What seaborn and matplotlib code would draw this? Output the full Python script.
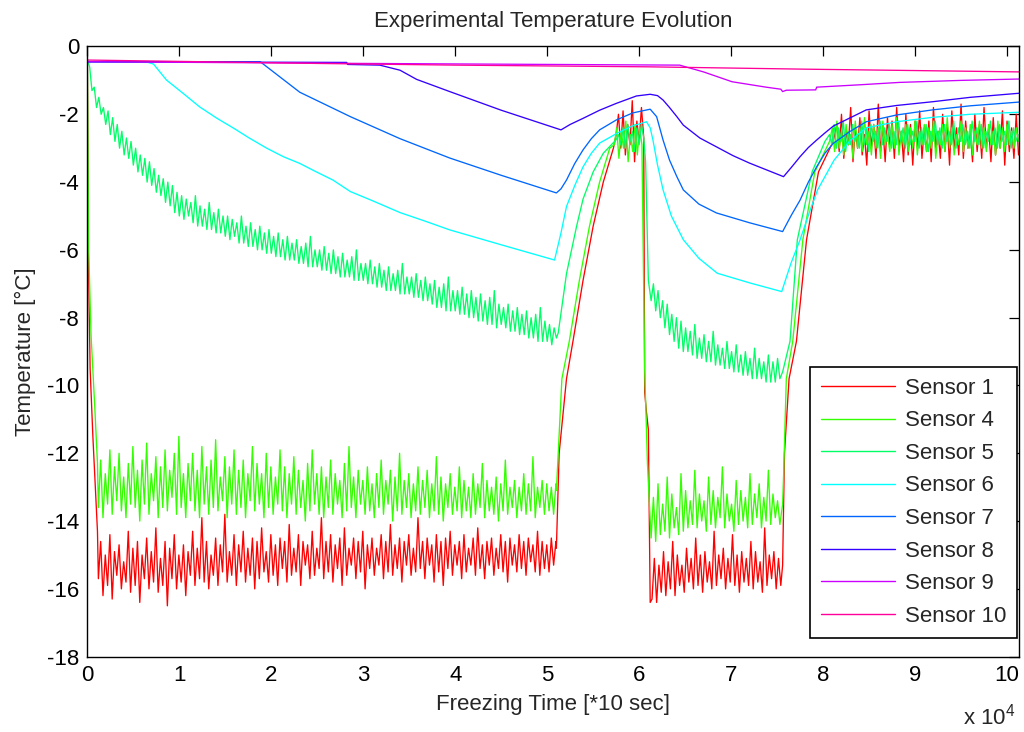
import numpy as np
import pandas as pd
import matplotlib
matplotlib.use("Agg")
import matplotlib.pyplot as plt
import seaborn as sns
from matplotlib.ticker import FuncFormatter

# ---------------------------------------------------------------------------
# Sensors and their trace colours
# ---------------------------------------------------------------------------
sensors = ["Sensor 1", "Sensor 4", "Sensor 5", "Sensor 6",
           "Sensor 7", "Sensor 8", "Sensor 9", "Sensor 10"]
colors = ["#ff0000", "#33ff00", "#00ff66", "#00ffff",
          "#0066ff", "#3300ff", "#cc00ff", "#ff0099"]

STEP = 250  # sampling interval of the logged (noisy) stretches, in time units

# ---------------------------------------------------------------------------
# Sensor 1
# ---------------------------------------------------------------------------
s1_start_t = [0, 100, 300, 600, 900, 1100]
s1_start_v = [-0.4, -6.0, -9.5, -11.5, -13.2, -14.3]
s1_freeze1_t0 = 1200
s1_freeze1 = [
    -15.7, -14.6, -16.2, -15.0, -15.9, -14.4, -16.3, -14.9, -15.6, -14.7, -16.0, -15.2, -15.8, -14.3, -16.1, -14.8, -15.9, -14.6, -16.4, -15.0,
    -15.7, -14.5, -16.0, -14.9, -15.8, -14.2, -16.1, -15.1, -15.9, -14.6, -16.5, -14.8, -15.7, -14.4, -16.0, -15.0, -15.8, -14.7, -16.2, -14.9,
    -15.6, -14.3, -15.9, -14.8, -15.7, -13.9, -15.8, -14.6, -16.0, -15.0, -15.6, -14.5, -15.9, -14.7, -15.5, -13.8, -15.8, -14.9, -15.6, -14.4,
    -15.9, -14.7, -15.5, -14.3, -15.8, -14.8, -15.6, -14.5, -16.0, -14.6, -15.7, -14.2, -15.5, -14.9, -15.8, -14.4, -15.6, -14.7, -15.9, -14.5,
    -15.4, -14.6, -15.8, -14.1, -15.6, -14.8, -15.5, -14.4, -15.9, -14.6, -15.3, -14.7, -15.7, -14.3, -15.6, -14.8, -15.4, -13.9, -15.7, -14.6,
    -15.5, -14.4, -15.8, -14.7, -15.4, -14.5, -15.9, -14.2, -15.6, -14.8, -15.3, -14.5, -15.7, -14.6, -15.5, -14.3, -16.0, -14.7, -15.4, -14.5,
    -15.6, -14.8, -15.3, -14.4, -15.7, -14.6, -15.5, -14.1, -15.6, -14.7, -15.4, -14.5, -15.8, -14.6, -15.3, -14.4, -15.6, -14.8, -15.5, -13.9,
    -15.4, -14.6, -15.7, -14.5, -15.3, -14.7, -15.8, -14.4, -15.5, -14.6, -15.9, -14.5, -15.4, -14.3, -15.6, -14.7, -15.3, -14.6, -15.7, -14.4,
    -15.5, -14.8, -15.3, -14.5, -15.6, -14.2, -15.4, -14.7, -15.7, -14.6, -15.3, -14.5, -15.6, -14.8, -15.4, -14.4, -15.5, -14.6, -15.8, -14.5,
    -15.3, -14.7, -15.5, -14.4, -15.4, -14.6, -15.6, -14.5, -15.2, -14.7, -15.5, -14.3, -15.6, -14.6, -15.4, -14.7, -15.5, -14.5, -15.3, -14.6,
]
s1_rise1_t = [51000, 51300, 52100, 52800, 53900, 55000, 56100, 57200]
s1_rise1_v = [-14.8, -12.0, -9.8, -8.7, -6.9, -5.3, -4.0, -3.0]
s1_peak_t0 = 57500
s1_peak = [-2.6, -2.0, -3.0, -1.9, -3.2, -2.3, -2.9, -1.6, -3.4, -2.2, -2.8, -1.8, -2.7]
s1_drop_t = [60600, 60800, 61000, 61200]
s1_drop_v = [-10.2, -10.8, -11.3, -16.4]
s1_freeze2_t0 = 61400
s1_freeze2 = [
    -16.3, -15.1, -16.4, -15.3, -16.1, -14.9, -16.2, -15.2, -16.0, -14.6, -16.2, -15.0, -15.9, -15.3, -16.1, -14.8, -15.8, -15.1, -16.0, -14.5,
    -15.9, -15.0, -16.1, -14.9, -15.8, -15.2, -16.0, -14.3, -15.9, -15.0, -15.7, -14.8, -16.0, -15.1, -15.8, -14.4, -15.9, -15.0, -16.1, -14.9,
    -15.8, -15.1, -15.9, -14.6, -16.0, -14.9, -15.8, -15.2, -16.1, -14.2, -15.9, -15.0, -15.7, -14.9, -16.0, -15.1, -15.9,
]
s1_rise2_t = [75600, 75800, 76300, 77100, 78200, 79500, 81100]
s1_rise2_v = [-15.3, -12.0, -9.8, -8.7, -5.7, -3.7, -2.8]
s1_thaw_t0 = 81500
s1_thaw = [
    -2.3, -3.1, -2.0, -3.3, -2.5, -2.9, -1.8, -3.4, -2.4, -3.0, -2.1, -3.2, -2.6, -3.5, -1.9, -3.0, -2.3, -3.3, -1.7, -3.1,
    -2.4, -3.4, -2.1, -2.9, -2.2, -3.3, -1.8, -3.0, -2.5, -3.4, -2.0, -3.2, -2.3, -3.5, -2.2, -3.0, -1.9, -3.3, -2.4, -3.1,
    -2.2, -3.4, -1.8, -3.0, -2.5, -3.3, -2.0, -3.1, -2.3, -3.5, -1.9, -3.0, -2.4, -3.2, -1.7, -3.3, -2.2, -3.0, -2.5, -3.4,
    -2.0, -3.1, -2.3, -3.3, -1.8, -3.0, -2.4, -3.4, -2.1, -3.2, -2.5, -3.0, -1.9, -3.5, -2.2, -3.1, -2.4, -3.3, -2.0, -3.2,
]

# ---------------------------------------------------------------------------
# Sensor 4
# ---------------------------------------------------------------------------
s4_start_t = [0, 150, 400, 800, 1100]
s4_start_v = [-0.4, -6.0, -8.5, -10.6, -12.3]
s4_freeze1_t0 = 1200
s4_freeze1 = [
    -13.6, -12.2, -13.9, -12.6, -13.5, -11.9, -13.8, -12.4, -13.4, -12.0, -13.7, -12.7, -13.9, -12.3, -13.5, -11.8, -13.6, -12.5, -14.0, -12.2,
    -13.5, -11.7, -13.8, -12.6, -13.4, -12.1, -13.9, -12.4, -13.6, -11.9, -13.7, -12.5, -13.3, -12.0, -13.8, -11.5, -13.6, -12.6, -13.9, -12.3,
    -13.4, -12.0, -13.7, -12.5, -13.9, -11.8, -13.5, -12.4, -13.8, -12.2, -13.6, -11.6, -13.7, -12.7, -13.4, -12.1, -13.9, -12.4, -13.5, -11.9,
    -13.8, -12.5, -13.6, -12.2, -13.9, -12.6, -13.4, -11.8, -13.7, -12.3, -13.5, -12.6, -13.9, -12.0, -13.6, -12.4, -13.8, -12.7, -13.5, -11.9,
    -13.7, -12.4, -13.9, -12.6, -13.5, -12.1, -13.8, -12.5, -13.6, -12.8, -14.0, -12.3, -13.7, -11.9, -13.5, -12.6, -13.8, -12.4, -13.9, -12.7,
    -13.6, -12.2, -13.8, -12.6, -13.5, -12.8, -13.9, -12.3, -13.7, -11.8, -13.6, -12.7, -13.9, -12.5, -13.5, -12.8, -13.8, -12.4, -13.7, -12.9,
    -13.9, -12.6, -13.6, -12.2, -13.8, -12.8, -13.5, -12.5, -14.0, -12.7, -13.7, -12.0, -13.8, -12.8, -13.6, -12.6, -13.9, -12.9, -13.7, -12.4,
    -13.8, -12.8, -13.6, -12.5, -13.9, -12.9, -13.7, -12.1, -13.8, -12.7, -14.0, -12.9, -13.6, -12.6, -13.8, -13.0, -13.7, -12.4, -13.9, -12.8,
    -13.7, -13.0, -13.9, -12.6, -13.8, -12.9, -13.6, -12.3, -13.9, -12.8, -13.7, -13.0, -13.8, -12.7, -14.0, -12.9, -13.7, -12.2, -13.8, -13.0,
    -13.6, -12.8, -13.9, -13.0, -13.7, -12.6, -13.8, -12.9, -13.7, -12.1, -13.9, -13.0, -13.6, -12.8, -13.8, -12.9, -13.7, -13.0, -13.8, -12.9,
]
s4_rise1_t = [51000, 51600, 52400, 53500, 54600, 55700, 56800]
s4_rise1_v = [-13.1, -9.8, -8.7, -6.9, -5.3, -4.0, -3.0]
s4_peak_t0 = 57300
s4_peak = [-2.9, -2.4, -3.3, -2.5, -3.0, -2.2, -3.4, -2.6, -3.1, -2.3, -3.2, -2.4, -2.9]
s4_drop_t = [60600, 60900]
s4_drop_v = [-9.5, -12.3]
s4_freeze2_t0 = 61300
s4_freeze2 = [
    -14.5, -13.3, -14.6, -12.9, -14.4, -13.5, -14.3, -12.7, -14.5, -13.2, -14.2, -13.6, -14.4, -12.6, -14.3, -13.1, -14.2, -13.4, -14.1, -12.5,
    -14.2, -13.2, -14.0, -13.4, -14.3, -12.7, -14.1, -13.1, -14.2, -13.3, -13.9, -12.4, -14.2, -13.2, -14.0, -13.5, -14.3, -12.8, -14.1, -13.1,
    -14.0, -13.3, -14.2, -12.6, -14.1, -13.2, -13.9, -12.9, -14.2, -13.3, -14.0, -12.5, -14.1, -13.2, -13.9, -13.4, -14.1,
]
s4_rise2_t = [75600, 75700, 76000, 76700, 77800, 79100, 80700]
s4_rise2_v = [-13.5, -12.7, -9.8, -8.7, -5.7, -3.7, -2.8]
s4_thaw_t0 = 81000
s4_thaw = [
    -2.4, -3.1, -2.2, -3.0, -2.5, -3.2, -2.3, -2.9, -2.6, -3.3, -2.2, -3.0, -2.4, -3.1, -2.1, -2.9, -2.5, -3.2, -2.3, -3.0,
    -2.4, -3.3, -2.2, -2.9, -2.6, -3.1, -2.3, -3.0, -2.1, -3.2, -2.5, -2.9, -2.3, -3.1, -2.4, -3.0, -2.2, -3.2, -2.5, -2.9,
    -2.3, -3.1, -2.4, -3.0, -2.2, -3.3, -2.5, -2.9, -2.3, -3.1, -2.1, -3.0, -2.4, -3.2, -2.6, -2.9, -2.2, -3.1, -2.4, -3.0,
    -2.3, -3.2, -2.5, -2.9, -2.2, -3.0, -2.4, -3.1, -2.3, -2.9, -2.5, -3.2, -2.2, -3.0, -2.4, -3.1, -2.3, -2.9, -2.5, -3.0,
    -2.4, -2.8,
]

# ---------------------------------------------------------------------------
# Sensor 5
# ---------------------------------------------------------------------------
s5_freeze1_t0 = 0
s5_freeze1 = [
    -0.4, -0.6, -1.3, -1.2, -1.8, -1.5, -2.0, -1.8, -2.3, -1.9, -2.6, -2.1, -2.8, -2.3, -3.0, -2.5, -3.2, -2.7, -3.3, -2.8,
    -3.5, -3.0, -3.7, -3.2, -3.8, -3.3, -4.0, -3.4, -4.1, -3.6, -4.3, -3.8, -4.4, -3.9, -4.6, -4.0, -4.7, -4.1, -4.9, -4.3,
    -5.0, -4.4, -5.1, -4.5, -5.0, -4.6, -5.2, -4.4, -5.3, -4.7, -5.3, -4.8, -5.4, -4.6, -5.4, -4.9, -5.5, -4.8, -5.5, -5.0,
    -5.6, -5.0, -5.7, -5.1, -5.6, -5.2, -5.8, -5.0, -5.8, -5.3, -5.9, -5.2, -5.9, -5.4, -6.0, -5.3, -6.0, -5.5, -6.1, -5.4,
    -6.1, -5.6, -6.2, -5.5, -6.2, -5.7, -6.3, -5.6, -6.3, -5.8, -6.3, -5.7, -6.4, -5.9, -6.4, -5.8, -6.5, -5.6, -6.5, -6.0,
    -6.5, -6.0, -6.6, -5.9, -6.6, -6.1, -6.7, -6.0, -6.7, -6.2, -6.8, -6.1, -6.8, -6.3, -6.8, -6.2, -6.9, -6.0, -6.9, -6.4,
    -6.9, -6.4, -7.0, -6.3, -7.0, -6.5, -7.1, -6.4, -7.1, -6.6, -7.2, -6.5, -7.2, -6.7, -7.2, -6.6, -7.3, -6.4, -7.3, -6.8,
    -7.3, -6.8, -7.4, -6.7, -7.4, -6.9, -7.5, -6.8, -7.5, -7.0, -7.6, -6.9, -7.7, -7.1, -7.7, -7.0, -7.8, -6.8, -7.8, -7.2,
    -7.8, -7.2, -7.9, -7.1, -7.9, -7.3, -8.0, -7.2, -8.0, -7.4, -8.1, -7.3, -8.1, -7.5, -8.2, -7.4, -8.2, -7.2, -8.3, -7.6,
    -8.2, -7.7, -8.3, -7.6, -8.4, -7.8, -8.4, -7.7, -8.5, -7.9, -8.5, -7.8, -8.6, -8.0, -8.6, -7.9, -8.7, -7.7, -8.7, -8.1,
    -8.7, -8.2, -8.8, -8.3, -8.6,
]
s5_rise1_t = [51200, 52100, 53200, 53900, 55000, 56100, 57500]
s5_rise1_v = [-8.45, -6.7, -5.3, -4.5, -3.7, -3.15, -2.75]
s5_peak_t0 = 57750
s5_peak = [-2.6, -2.9, -2.4, -3.0, -2.3, -2.8, -2.5, -3.1, -2.4, -2.9, -2.3, -2.7]
s5_drop_t = [60700, 61000]
s5_drop_v = [-3.4, -6.9]
s5_freeze2_t0 = 61300
s5_freeze2 = [
    -7.5, -7.0, -7.8, -7.2, -8.0, -7.5, -8.3, -7.6, -8.5, -7.9, -8.7, -8.0, -8.9, -8.1, -9.0, -8.3, -9.0, -8.4, -9.1, -8.2,
    -9.2, -8.6, -9.2, -8.5, -9.3, -8.7, -9.3, -8.4, -9.4, -8.8, -9.4, -8.9, -9.5, -8.7, -9.5, -9.0, -9.6, -8.8, -9.6, -9.1,
    -9.7, -9.0, -9.7, -9.2, -9.8, -8.9, -9.8, -9.2, -9.8, -9.3, -9.9, -9.1, -9.9, -9.3, -9.9, -9.2, -9.8,
]
s5_rise2_t = [75600, 76400, 77200, 78800, 80200]
s5_rise2_v = [-9.6, -8.7, -5.7, -3.7, -2.8]
s5_thaw_t0 = 80700
s5_thaw = [
    -2.6, -2.9, -2.3, -3.0, -2.4, -2.8, -2.2, -3.1, -2.5, -2.9, -2.3, -2.8, -2.6, -3.0, -2.2, -2.9, -2.4, -3.1, -2.3, -2.8,
    -2.5, -3.0, -2.2, -2.9, -2.4, -2.8, -2.3, -3.0, -2.5, -2.9, -2.2, -2.8, -2.4, -3.0, -2.3, -2.9, -2.5, -2.8, -2.2, -3.0,
    -2.4, -2.9, -2.3, -3.1, -2.5, -2.8, -2.2, -2.9, -2.4, -3.0, -2.3, -2.8, -2.5, -2.9, -2.2, -3.0, -2.4, -2.8, -2.3, -2.9,
    -2.5, -3.0, -2.2, -2.8, -2.4, -2.9, -2.3, -3.0, -2.5, -2.8, -2.2, -2.9, -2.4, -3.0, -2.3, -2.8, -2.5, -2.9, -2.2, -3.0,
    -2.4, -2.8, -2.6,
]

# ---------------------------------------------------------------------------
# Smoother sensors (6 - 10): breakpoints of each record
# ---------------------------------------------------------------------------
s6_t = [0, 6600, 7200, 8600, 10400, 12200, 14100, 15900, 17600, 19500,
        21300, 23100, 24900, 26700, 28600, 31000, 34000, 36700, 39400, 45000,
        50800, 51500, 52100, 53000, 53900, 54800, 55700, 57600, 59200, 60800,
        61200, 61500, 62000, 62600, 63500, 64800, 66500, 68500, 72100, 75500,
        76500, 77500, 78500, 79400, 81200, 83000, 84700, 88000, 91900, 96000,
        101300]
s6_v = [-0.45, -0.47, -0.52, -0.99, -1.38, -1.78, -2.12, -2.41, -2.7, -3.0,
        -3.25, -3.45, -3.7, -3.94, -4.28, -4.55, -4.9, -5.15, -5.41, -5.85,
        -6.3, -5.5, -4.72, -4.1, -3.55, -3.15, -2.85, -2.56, -2.35, -2.22,
        -2.4, -2.76, -3.5, -4.23, -5.0, -5.7, -6.25, -6.69, -6.98, -7.23,
        -6.4, -5.7, -4.9, -4.23, -3.35, -2.76, -2.4, -2.22, -2.09, -2.0,
        -1.94]

s7_t = [0, 18800, 23100, 28600, 34000, 39400, 45000, 51000, 51500, 52100,
        53000, 53900, 54800, 55700, 57500, 59300, 61200, 61900, 62600, 63300,
        64100, 64800, 66500, 68400, 72000, 75600, 76500, 77500, 78400, 79300,
        80200, 81100, 82900, 84700, 88000, 91900, 96000, 101300]
s7_v = [-0.45, -0.45, -1.35, -2.07, -2.72, -3.29, -3.8, -4.32, -4.2, -3.94,
        -3.45, -3.05, -2.72, -2.46, -2.17, -1.96, -1.85, -2.07, -2.76, -3.35,
        -3.84, -4.23, -4.65, -4.91, -5.2, -5.46, -5.0, -4.53, -4.0, -3.55,
        -3.15, -2.86, -2.51, -2.22, -2.02, -1.87, -1.75, -1.64]

s8_t = [0, 28200, 28300, 31800, 34000, 35800, 39400, 45000, 51500, 52500,
        53900, 55700, 57500, 59700, 61200, 62000, 62600, 63300, 64100, 64800,
        66600, 68400, 70200, 72000, 75700, 76600, 77500, 78400, 79300, 80200,
        81100, 82900, 84700, 88000, 91900, 96000, 101300]
s8_v = [-0.45, -0.47, -0.53, -0.55, -0.7, -0.97, -1.33, -1.88, -2.46, -2.3,
        -2.12, -1.88, -1.68, -1.46, -1.41, -1.45, -1.58, -1.8, -2.07, -2.32,
        -2.7, -2.96, -3.22, -3.44, -3.84, -3.55, -3.25, -2.98, -2.76, -2.55,
        -2.35, -2.11, -1.87, -1.74, -1.63, -1.5, -1.38]

s9_t = [0, 30000, 64400, 67000, 70100, 73800, 75400, 75600, 76000, 79200,
        79300, 84000, 88300, 95000, 101300]
s9_v = [-0.45, -0.5, -0.55, -0.75, -1.04, -1.2, -1.26, -1.33, -1.29, -1.28,
        -1.2, -1.13, -1.06, -1.0, -0.96]

s10_t = [0, 25000, 40000, 61000, 78200, 90000, 101300]
s10_v = [-0.4, -0.5, -0.55, -0.6, -0.67, -0.71, -0.75]

x_ticks = [0, 10000, 20000, 30000, 40000, 50000, 60000, 70000, 80000, 90000, 100000]
y_ticks = [-18, -16, -14, -12, -10, -8, -6, -4, -2, 0]


def sampled(t0, vals):
    """Time stamps of a stretch logged every STEP time units."""
    return [t0 + STEP * k for k in range(len(vals))]


def record(parts):
    """Join (times, values) pieces of one sensor into a single record."""
    t, v = [], []
    for pt, pv in parts:
        t.extend(pt)
        v.extend(pv)
    return t, v


records = {
    "Sensor 1": record([
        (s1_start_t, s1_start_v),
        (sampled(s1_freeze1_t0, s1_freeze1), s1_freeze1),
        (s1_rise1_t, s1_rise1_v),
        (sampled(s1_peak_t0, s1_peak), s1_peak),
        (s1_drop_t, s1_drop_v),
        (sampled(s1_freeze2_t0, s1_freeze2), s1_freeze2),
        (s1_rise2_t, s1_rise2_v),
        (sampled(s1_thaw_t0, s1_thaw), s1_thaw),
    ]),
    "Sensor 4": record([
        (s4_start_t, s4_start_v),
        (sampled(s4_freeze1_t0, s4_freeze1), s4_freeze1),
        (s4_rise1_t, s4_rise1_v),
        (sampled(s4_peak_t0, s4_peak), s4_peak),
        (s4_drop_t, s4_drop_v),
        (sampled(s4_freeze2_t0, s4_freeze2), s4_freeze2),
        (s4_rise2_t, s4_rise2_v),
        (sampled(s4_thaw_t0, s4_thaw), s4_thaw),
    ]),
    "Sensor 5": record([
        (sampled(s5_freeze1_t0, s5_freeze1), s5_freeze1),
        (s5_rise1_t, s5_rise1_v),
        (sampled(s5_peak_t0, s5_peak), s5_peak),
        (s5_drop_t, s5_drop_v),
        (sampled(s5_freeze2_t0, s5_freeze2), s5_freeze2),
        (s5_rise2_t, s5_rise2_v),
        (sampled(s5_thaw_t0, s5_thaw), s5_thaw),
    ]),
    "Sensor 6": (s6_t, s6_v),
    "Sensor 7": (s7_t, s7_v),
    "Sensor 8": (s8_t, s8_v),
    "Sensor 9": (s9_t, s9_v),
    "Sensor 10": (s10_t, s10_v),
}

frames = []
for name in sensors:
    t, v = records[name]
    frames.append(pd.DataFrame({"time": t, "temp": v, "sensor": name}))
df = pd.concat(frames, ignore_index=True)

# ---------------------------------------------------------------------------
# Figure
# ---------------------------------------------------------------------------
sns.set_style("white")
plt.rcParams["font.family"] = ["Liberation Sans", "DejaVu Sans"]
plt.rcParams["axes.unicode_minus"] = False
plt.rcParams["mathtext.fontset"] = "custom"
plt.rcParams["mathtext.rm"] = "Liberation Sans"

fig = plt.figure(figsize=(10.24, 7.32), dpi=100)
ax = fig.add_axes([0.0853, 0.1029, 0.9098, 0.8336])

palette = dict(zip(sensors, colors))
sns.lineplot(data=df, x="time", y="temp", hue="sensor", hue_order=sensors,
             palette=palette, units="sensor", estimator=None, sort=False,
             linewidth=0.95, ax=ax)

ax.set_xlim(0, 101300)
ax.set_ylim(-18, 0)
ax.set_xticks(x_ticks)
ax.set_yticks(y_ticks)
ax.xaxis.set_major_formatter(FuncFormatter(lambda v, p: f"{v / 1e4:g}"))
ax.yaxis.set_major_formatter(FuncFormatter(lambda v, p: f"{v:g}"))

ax.tick_params(direction="in", top=True, right=True, length=7, width=0.9,
               labelsize=16, colors="black", pad=6)
for sp in ax.spines.values():
    sp.set_color("black")
    sp.set_linewidth(1.0)

ax.set_title("Experimental Temperature Evolution", fontsize=16, pad=14)
ax.set_xlabel("Freezing Time [*10 sec]", fontsize=16, labelpad=6)
ax.set_ylabel("Temperature [°C]", fontsize=16, labelpad=8)
fig.text(0.992, 0.004, r"x 10$^{\mathregular{4}}$", ha="right", va="bottom",
         fontsize=16)

handles, labels = ax.get_legend_handles_labels()
leg = ax.legend(handles, labels, loc="lower right",
                bbox_to_anchor=(0.998, 0.031), borderaxespad=0.0,
                fontsize=16, frameon=True, fancybox=False, framealpha=1.0,
                edgecolor="black", handlelength=3.3, handletextpad=0.45,
                labelspacing=0.52, borderpad=0.5)
leg.get_frame().set_linewidth(1.2)
for line in leg.get_lines():
    line.set_linewidth(1.0)

fig.savefig("out.png", dpi=100)
